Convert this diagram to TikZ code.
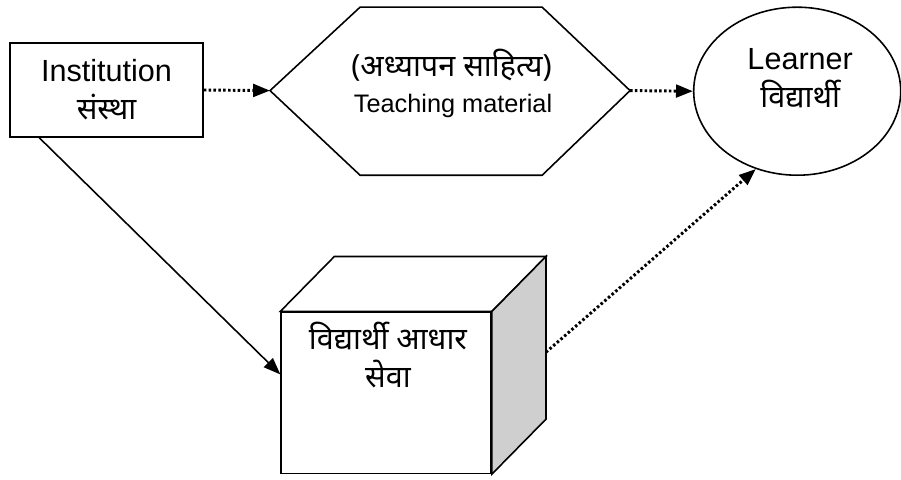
\documentclass[tikz,border=0pt]{standalone}
\usepackage{fontspec}
\setmainfont{Liberation Sans}
\newfontfamily\deva[Script=Devanagari]{Noto Sans}
\usetikzlibrary{arrows.meta,calc,shapes.geometric}
\definecolor{ink}{HTML}{000000}
\definecolor{side}{HTML}{CFCFCF}

\begin{document}
\begin{tikzpicture}[>=Latex]
\tikzset{box/.style={draw=ink,line width=1.5pt,fill=white},
  txt/.style={text=ink,align=center,font=\fontsize{29}{36}\selectfont},
  small/.style={text=ink,align=center,font=\fontsize{24}{36}\selectfont},
  dotarrow/.style={draw=ink,line width=2.8pt,dash pattern=on 2.4pt off 2.2pt,-{Triangle[length=16pt,width=12pt]}},
  solidarrow/.style={draw=ink,line width=1.5pt,-{Triangle[length=16pt,width=12pt]}}}
\useasboundingbox (0,0) rectangle (30.03,15.97);

\node[box,txt,minimum width=6.43cm,minimum height=3.13cm] (inst) at (3.55,12.97)
  {Institution\\{\deva संस्था}};

\coordinate (hL) at (9.0,12.95);
\coordinate (hTL) at (12.0,15.73);
\coordinate (hTR) at (18.07,15.73);
\coordinate (hR) at (21.0,12.95);
\coordinate (hBR) at (18.07,10.13);
\coordinate (hBL) at (12.0,10.13);
\draw[box] (hL)--(hTL)--(hTR)--(hR)--(hBR)--(hBL)--cycle;
\node[txt] (mat) at (15.05,13.8) {{\deva (अध्यापन साहित्य)}};
\node[small] (matb) at (15.1,12.45) {Teaching material};

\node[box,ellipse,minimum width=6.9cm,minimum height=5.6cm,inner sep=0pt] (lrn) at (26.57,12.93) {};
\node[txt] (lrntext) at (26.67,13.37) {Learner\\{\deva विद्यार्थी}};

\node[box,minimum width=7.0cm,minimum height=5.37cm,inner sep=0pt] (svc) at (12.87,2.88) {};
\draw[box] (svc.north west)--++(1.8,1.83)--($(svc.north east)+(1.8,1.83)$)--(svc.north east)--cycle;
\draw[box,fill=side] (svc.north east)--++(1.8,1.83)--($(svc.south east)+(1.8,1.83)$)--(svc.south east)--cycle;
\node[txt] (svctext) at (12.93,4.15) {{\deva विद्यार्थी आधार}\\{\deva सेवा}};

\coordinate (instfoot) at ($(inst.south west)+(1,0)$);
\coordinate (svcin) at ($(svc.north west)+(0,-2.1)$);
\coordinate (svcout) at ($(svc.east)+(1.8,1.35)$);

\draw[dotarrow] (inst.east)--(hL);
\draw[dotarrow] (hR)--(lrn.west);
\draw[solidarrow] (instfoot)--(svcin);
\draw[dotarrow] (svcout)--(lrn.242);
\end{tikzpicture}
\end{document}
